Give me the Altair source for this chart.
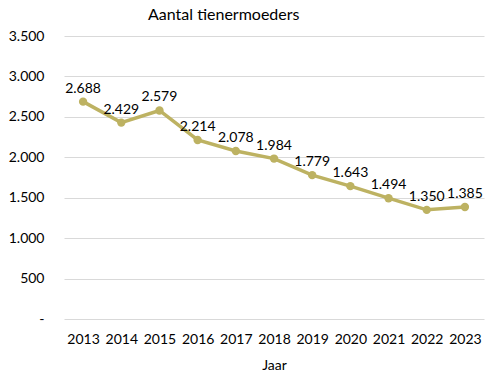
import altair as alt
import pandas as pd

years = ["2013", "2014", "2015", "2016", "2017", "2018", "2019", "2020", "2021", "2022", "2023"]
values = [2688, 2429, 2579, 2214, 2078, 1984, 1779, 1643, 1494, 1350, 1385]

df = pd.DataFrame({"Jaar": years, "Aantal": values})

FONT = "Lato"
COLOR = "#BDB262"

base = alt.Chart(df).encode(
    x=alt.X("Jaar:O", sort=years,
            scale=alt.Scale(paddingInner=0, paddingOuter=0.5),
            axis=alt.Axis(title="Jaar", labelAngle=0, ticks=False, domain=False, grid=False,
                          labelFontSize=14, labelColor="#000000", labelPadding=13,
                          titleFontSize=14, titleFontWeight="normal", titleColor="#000000",
                          titlePadding=12, labelFont=FONT, titleFont=FONT)),
    y=alt.Y("Aantal:Q", scale=alt.Scale(domain=[0, 3500], nice=False),
            axis=alt.Axis(title=None, values=[0, 500, 1000, 1500, 2000, 2500, 3000, 3500],
                          labelExpr="datum.value == 0 ? '-' : replace(format(datum.value, ','), ',', '.')",
                          ticks=False, domain=False, labelFontSize=14, labelColor="#000000",
                          labelPadding=20, labelFont=FONT,
                          gridColor="#D9D9D9", gridWidth=1)),
)

line = base.mark_line(color=COLOR, strokeWidth=3.5)
points = base.mark_circle(color=COLOR, size=70, opacity=1)
labels = base.transform_calculate(
    lbl="replace(format(datum.Aantal, ','), ',', '.')"
).mark_text(dy=-13, fontSize=14, font=FONT, color="#000000").encode(text="lbl:N")

chart = (line + points + labels).properties(
    width=420, height=283,
    title=alt.TitleParams("Aantal tienermoeders", anchor="start", frame="group", dx=84, fontSize=16,
                          fontWeight="normal", font=FONT, color="#000000", offset=6),
    autosize=alt.AutoSizeParams(type="none"),
    padding={"left": 64, "top": 36, "right": 16, "bottom": 57},
    background="#FFFFFF",
).configure_view(stroke=None, strokeWidth=0)

chart.save("out.html", embed_options={"renderer": "svg", "actions": False})
